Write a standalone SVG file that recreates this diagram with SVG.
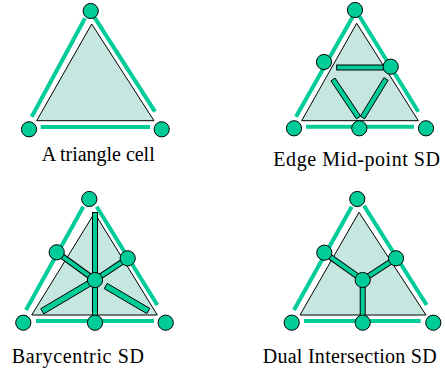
<svg xmlns="http://www.w3.org/2000/svg" width="445" height="371" viewBox="0 0 445 371">
<style>
.tri{fill:#c6e7df;stroke:#000;stroke-width:1}
.edge{stroke:#00cc99;stroke-width:4;fill:none}
.bar{fill:#00cc99;stroke:#000;stroke-width:1}
.pt{fill:#00cc99;stroke:#000;stroke-width:1}
.lbl{font-family:"Liberation Serif","Times New Roman",serif;font-size:20px;fill:#000}
</style>
<rect width="445" height="371" fill="#fff"/>
<g id="panel-triangle-cell">
<polygon class="tri" points="91.7,24 36.7,120.7 154,120.7"/>
<g id="edges1">
<line class="edge" x1="31.7" y1="116.7" x2="85" y2="18.3"/>
<line class="edge" x1="94" y1="16.7" x2="155" y2="111.7"/>
<line class="edge" x1="40.7" y1="127" x2="150" y2="127"/>
</g>
<circle class="pt" cx="90.7" cy="11" r="7.6"/>
<circle class="pt" cx="29" cy="129.3" r="7.6"/>
<circle class="pt" cx="161.7" cy="129.3" r="7.6"/>
<text class="lbl" x="41.7" y="160.5" textLength="113" lengthAdjust="spacing">A triangle cell</text>
</g>
<g id="panel-edge-midpoint">
<polygon class="tri" points="356.7,23.3 301.7,120.7 418.3,120.7"/>
<g id="edges2">
<line class="edge" x1="296" y1="116.7" x2="352.7" y2="16.7"/>
<line class="edge" x1="359.3" y1="16" x2="418.3" y2="111.7"/>
<line class="edge" x1="306" y1="126.7" x2="414" y2="126.7"/>
</g>
<g id="bars2">
<rect class="bar" x="336.7" y="65" width="48.3" height="5"/>
<polygon class="bar" points="330.9,80.9 356.4,118.9 360.6,116.1 335.1,78.1"/>
<polygon class="bar" points="383.9,77.7 360.4,116.2 364.6,118.8 388.1,80.3"/>
</g>
<circle class="pt" cx="355" cy="10" r="7.6"/>
<circle class="pt" cx="324" cy="62" r="7.6"/>
<circle class="pt" cx="390.7" cy="66.7" r="7.6"/>
<circle class="pt" cx="294" cy="128.3" r="7.6"/>
<circle class="pt" cx="359.3" cy="128.3" r="7.6"/>
<circle class="pt" cx="426" cy="128.3" r="7.6"/>
<text class="lbl" x="273.3" y="166" textLength="166.7" lengthAdjust="spacing">Edge Mid-point SD</text>
</g>
<g id="panel-barycentric">
<polygon class="tri" points="94.5,213 31.7,315 157.3,315"/>
<g id="edges3">
<line class="edge" x1="26" y1="310" x2="83.3" y2="206.7"/>
<line class="edge" x1="96.7" y1="206.7" x2="157.3" y2="305"/>
<line class="edge" x1="36" y1="321" x2="154" y2="321"/>
</g>
<g id="bars3">
<rect class="bar" x="92.5" y="212.5" width="5" height="103"/>
<line x1="56.7" y1="252.3" x2="95" y2="280" stroke="#000" stroke-width="6"/>
<line x1="56.7" y1="252.3" x2="95" y2="280" stroke="#00cc99" stroke-width="4"/>
<line x1="95" y1="280" x2="127.7" y2="258.3" stroke="#000" stroke-width="6"/>
<line x1="95" y1="280" x2="127.7" y2="258.3" stroke="#00cc99" stroke-width="4"/>
<polygon class="bar" points="93.5,277.4 40.8,308.7 43.8,313.9 96.5,282.6"/>
<polygon class="bar" points="107.2,283.4 149.8,308.4 146.8,313.6 104.2,288.6"/>
</g>
<circle class="pt" cx="89.3" cy="199" r="7.6"/>
<circle class="pt" cx="56.7" cy="252.3" r="7.6"/>
<circle class="pt" cx="127.7" cy="258.3" r="7.6"/>
<circle class="pt" cx="95" cy="280" r="7.6"/>
<circle class="pt" cx="23.3" cy="322.7" r="7.6"/>
<circle class="pt" cx="95" cy="322.7" r="7.6"/>
<circle class="pt" cx="165.7" cy="322.7" r="7.6"/>
<text class="lbl" x="11.7" y="363" textLength="132.3" lengthAdjust="spacing">Barycentric SD</text>
</g>
<g id="panel-dual">
<polygon class="tri" points="359,212.3 300,315 426,315"/>
<g id="edges4">
<line class="edge" x1="294" y1="310" x2="351.7" y2="206.7"/>
<line class="edge" x1="364" y1="205.7" x2="426.7" y2="305"/>
<line class="edge" x1="304" y1="321" x2="420.7" y2="321"/>
</g>
<g id="bars4">
<line x1="324.3" y1="252.7" x2="362.7" y2="280" stroke="#000" stroke-width="6"/>
<line x1="362.7" y1="280" x2="396" y2="258.3" stroke="#000" stroke-width="6"/>
<line x1="362.7" y1="280" x2="362.7" y2="322.7" stroke="#000" stroke-width="6"/>
<line x1="324.3" y1="252.7" x2="362.7" y2="280" stroke="#00cc99" stroke-width="4"/>
<line x1="362.7" y1="280" x2="396" y2="258.3" stroke="#00cc99" stroke-width="4"/>
<line x1="362.7" y1="280" x2="362.7" y2="322.7" stroke="#00cc99" stroke-width="4"/>
</g>
<circle class="pt" cx="357.3" cy="199" r="7.6"/>
<circle class="pt" cx="324.3" cy="252.7" r="7.6"/>
<circle class="pt" cx="396" cy="258.3" r="7.6"/>
<circle class="pt" cx="362.7" cy="280" r="7.6"/>
<circle class="pt" cx="291.7" cy="322.7" r="7.6"/>
<circle class="pt" cx="362.7" cy="322.7" r="7.6"/>
<circle class="pt" cx="433.3" cy="322.7" r="7.6"/>
<text class="lbl" x="262.7" y="363" textLength="174" lengthAdjust="spacing">Dual Intersection SD</text>
</g>
</svg>
